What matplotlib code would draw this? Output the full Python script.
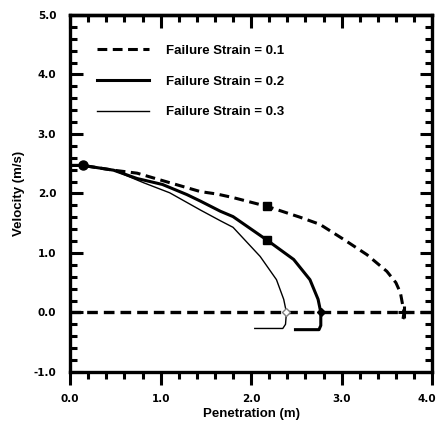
import matplotlib.pyplot as plt
import matplotlib.transforms as mtransforms
import numpy as np

# failure strain 0.1 (dashed)
x1 = [0.0, 0.14, 0.48, 0.74, 1.10, 1.44, 1.62, 1.80, 2.18, 2.54, 2.76, 3.02, 3.28, 3.50, 3.60, 3.65, 3.69, 3.68, 3.66]
v1 = [2.47, 2.47, 2.39, 2.34, 2.18, 2.03, 1.99, 1.93, 1.78, 1.60, 1.48, 1.23, 0.97, 0.69, 0.50, 0.33, 0.0, -0.10, -0.17]
# failure strain 0.2 (thick solid)
x2 = [0.0, 0.14, 0.48, 0.74, 1.02, 1.29, 1.44, 1.66, 1.80, 2.18, 2.47, 2.65, 2.74, 2.77, 2.77, 2.75, 2.60, 2.49]
v2 = [2.47, 2.47, 2.39, 2.25, 2.15, 1.98, 1.87, 1.70, 1.61, 1.21, 0.89, 0.55, 0.22, 0.0, -0.22, -0.29, -0.29, -0.29]
# failure strain 0.3 (thin solid)
x3 = [0.0, 0.14, 0.48, 0.81, 1.10, 1.44, 1.66, 1.80, 2.10, 2.28, 2.36, 2.39, 2.38, 2.35, 2.20, 2.04]
v3 = [2.47, 2.47, 2.39, 2.18, 2.01, 1.72, 1.54, 1.43, 0.94, 0.55, 0.22, 0.0, -0.20, -0.27, -0.27, -0.27]

start_pt = (0.14, 2.47)
sq1 = (2.18, 1.78)
sq2 = (2.18, 1.21)
stop1 = (3.69, 0.0)
stop2 = (2.77, 0.0)
stop3 = (2.39, 0.0)

plt.rcParams['font.family'] = ['Liberation Sans', 'DejaVu Sans']
fig = plt.figure(figsize=(4.36, 4.26), dpi=100)
ax = fig.add_axes([0.161, 0.127, 0.830, 0.838])

dash = (0, (3.2, 1.8))
ax.plot(x1, v1, color='black', lw=2.2, ls=dash, label='Failure Strain = 0.1')
ax.plot(x2, v2, color='black', lw=2.2, label='Failure Strain = 0.2')
ax.plot(x3, v3, color='black', lw=1.0, label='Failure Strain = 0.3')
ax.axhline(0, color='black', lw=2.4, ls=dash)

ax.plot(*start_pt, 'o', color='black', ms=6.5)
ax.plot(*sq1, 's', color='black', ms=6)
ax.plot(*sq2, 's', color='black', ms=6)
ax.plot(*stop2, 'D', color='black', ms=4)
ax.plot(*stop3, 'D', mfc='white', mec='gray', ms=4)
ax.plot(*stop1, '+', color='black', ms=9, mew=2.2)

ax.set_xlim(0, 4.0)
ax.set_ylim(-1.0, 5.0)
ax.set_xticks(np.arange(0, 4.01, 1.0))
ax.set_yticks(np.arange(-1.0, 5.01, 1.0))
ax.set_xticks(np.arange(0, 4.01, 0.2), minor=True)
ax.set_yticks(np.arange(-1.0, 5.01, 0.2), minor=True)
ax.set_xticklabels(['0.0', '1.0', '2.0', '3.0', '4.0'])
ax.set_yticklabels(['-1.0', '0.0', '1.0', '2.0', '3.0', '4.0', '5.0'])
ax.tick_params(which='both', direction='in', width=2.2, top=True, right=True)
ax.tick_params(axis='x', which='both', direction='out', pad=7)
ax.tick_params(axis='y', which='both', pad=10)
ax.tick_params(which='major', length=9)
ax.tick_params(which='minor', length=5)
ax.tick_params(axis='x', which='both', top=False)
for lab in ax.get_xticklabels() + ax.get_yticklabels():
    lab.set_fontweight('bold')
    lab.set_fontsize(7.5)
    lab.set_fontfamily('DejaVu Sans')
# keep the last x label inside the figure
last = ax.get_xticklabels()[-1]
last.set_transform(last.get_transform() + mtransforms.ScaledTranslation(-5 / 100, 0, fig.dpi_scale_trans))
for s in ax.spines.values():
    s.set_linewidth(2.4)

# top ticks point inward while bottom ticks point outward
sec = ax.secondary_xaxis('top')
sec.set_xticks(np.arange(0, 4.01, 1.0))
sec.set_xticks(np.arange(0, 4.01, 0.2), minor=True)
sec.tick_params(which='both', direction='in', width=2.2, labeltop=False)
sec.tick_params(which='major', length=9)
sec.tick_params(which='minor', length=5)
sec.spines['top'].set_linewidth(2.4)

ax.set_xlabel('Penetration (m)', fontsize=9.5, fontweight='bold', labelpad=3)
ax.set_ylabel('Velocity (m/s)', fontsize=9.5, fontweight='bold', labelpad=6)

leg = ax.legend(loc='upper left', bbox_to_anchor=(0.04, 0.95), frameon=False,
                prop={'size': 9.5, 'weight': 'bold'}, handlelength=4.0,
                handletextpad=1.3, labelspacing=1.4)

fig.savefig('out.png', dpi=100)
